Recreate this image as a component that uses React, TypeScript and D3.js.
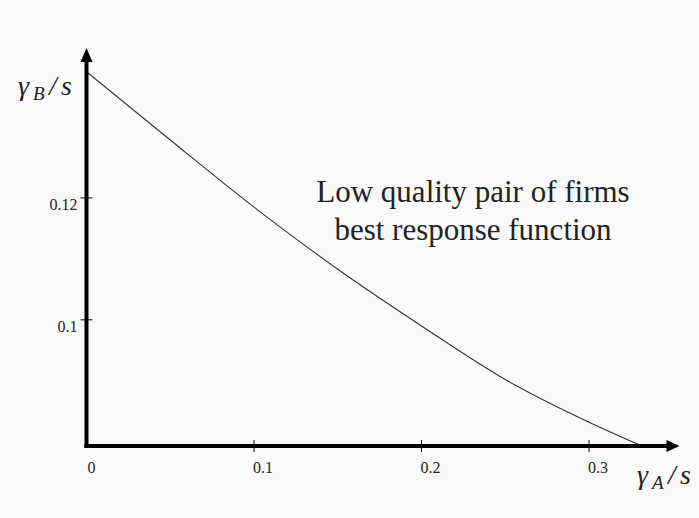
import * as d3 from 'd3';

// best response curve
const gammaA = [0, 0.05, 0.1, 0.15, 0.2, 0.25, 0.3, 0.3316];
const gammaB = [0.1407, 0.1295, 0.1185, 0.1083, 0.099, 0.0902, 0.0832, 0.0793];

const xTicks = [0, 0.1, 0.2, 0.3];
const xTickLabels = ['0', '0.1', '0.2', '0.3'];
const yTicks = [0.1, 0.12];
const yTickLabels = ['0.1', '0.12'];

const noteLines = ['Low quality pair of firms', 'best response function'];

const width = 699;
const height = 518;
const serif = '"Liberation Serif"';

export default function App() {
  const xScale = d3.scaleLinear().domain([0, 0.354]).range([86.5, 679.5]);
  const yScale = d3.scaleLinear().domain([0.0793, 0.1446]).range([446, 48]);

  const x0 = xScale(0);
  const y0 = yScale(0.0793);
  const xEnd = xScale(0.354);
  const yEnd = yScale(0.1446);

  const line = d3
    .line<number>()
    .x((_, i) => xScale(gammaA[i]))
    .y((d) => yScale(d))
    .curve(d3.curveMonotoneX);

  // math-style axis label: γ with subscript, then /s
  const mathLabel = (x: number, y: number, sub: string) => (
    <text y={y} fontFamily={serif} fontStyle="italic" fontSize={28} fill="#222">
      <tspan x={x}>γ</tspan>
      <tspan x={x + 15} dy={5} fontSize={19}>
        {sub}
      </tspan>
      <tspan x={x + 31} dy={-5}>
        /
      </tspan>
      <tspan x={x + 43}>s</tspan>
    </text>
  );

  return (
    <svg
      width={width}
      height={height}
      style={{ position: 'absolute', left: 0, top: 0, display: 'block', fontFamily: serif }}
    >
      <rect width={width} height={height} fill="#f9f9f9" />

      <path d={line(gammaB) ?? ''} fill="none" stroke="#333" strokeWidth={1.1} />

      {/* axes */}
      <line x1={x0} x2={x0} y1={y0 + 2} y2={yEnd + 12} stroke="#000" strokeWidth={4} />
      <path d={`M${x0},${yEnd} L${x0 - 6},${yEnd + 14} L${x0 + 6},${yEnd + 14} Z`} fill="#000" />
      <line x1={x0 - 2} x2={xEnd - 10} y1={y0} y2={y0} stroke="#000" strokeWidth={4} />
      <path d={`M${xEnd},${y0} L${xEnd - 13},${y0 - 6} L${xEnd - 13},${y0 + 6} Z`} fill="#000" />

      {xTicks.map((t, i) => (
        <g key={'x' + t}>
          {t > 0 && (
            <line x1={xScale(t)} x2={xScale(t)} y1={y0 - 6} y2={y0 + 6} stroke="#000" strokeWidth={1} />
          )}
          <text
            x={xScale(t) + (t === 0 ? 1 : -1)}
            y={y0 + 27}
            fontFamily={serif}
            fontSize={16}
            fill="#222"
          >
            {xTickLabels[i]}
          </text>
        </g>
      ))}

      {yTicks.map((t, i) => (
        <g key={'y' + t}>
          <line x1={x0 - 6} x2={x0 + 6} y1={yScale(t)} y2={yScale(t)} stroke="#000" strokeWidth={1} />
          <text
            x={x0 - 9}
            y={yScale(t) + 12}
            textAnchor="end"
            fontFamily={serif}
            fontSize={16}
            fill="#222"
          >
            {yTickLabels[i]}
          </text>
        </g>
      ))}

      {mathLabel(18, 95, 'B')}
      {mathLabel(637, 484, 'A')}

      {noteLines.map((s, i) => (
        <text
          key={s}
          x={473}
          y={202 + i * 38}
          textAnchor="middle"
          fontFamily={serif}
          fontSize={31}
          fill="#222"
        >
          {s}
        </text>
      ))}
    </svg>
  );
}
